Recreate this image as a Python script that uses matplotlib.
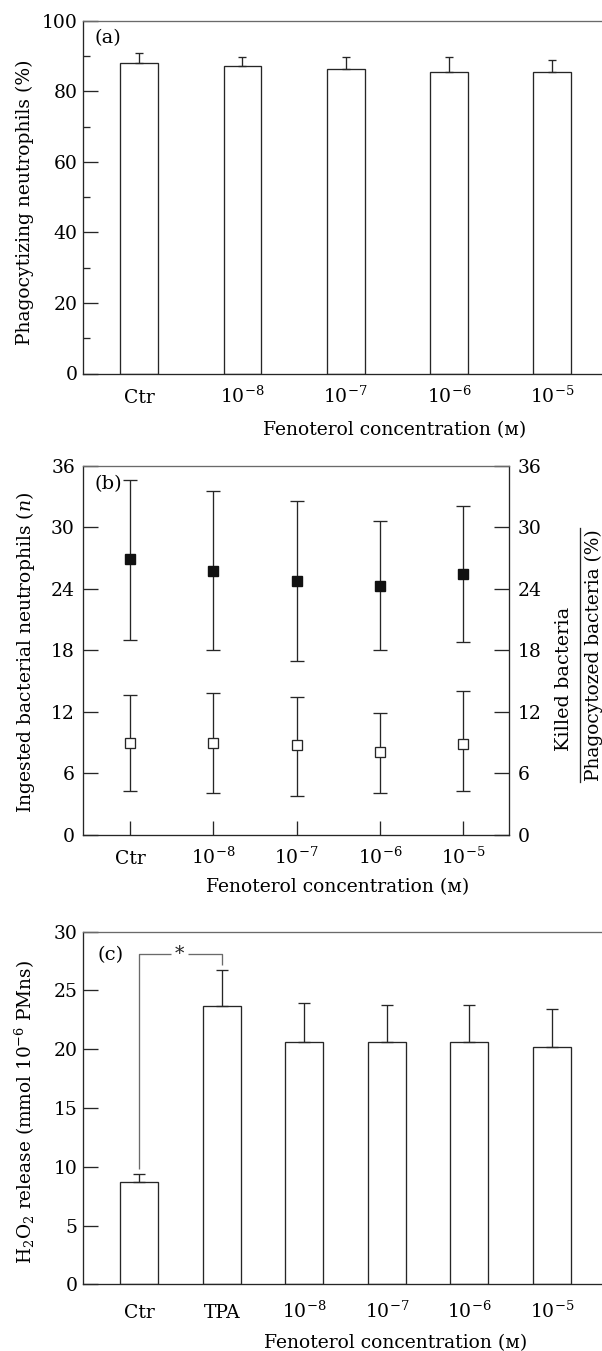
import matplotlib
matplotlib.use("Agg")
import matplotlib.pyplot as plt
from matplotlib.lines import Line2D
import numpy as np

plt.rcParams['font.family'] = ['DejaVu Serif', 'DejaVu Sans']
plt.rcParams['mathtext.fontset'] = 'dejavuserif'

# ---------------- data ----------------
cats_a = ['Ctr', r'10$^{-8}$', r'10$^{-7}$', r'10$^{-6}$', r'10$^{-5}$']
phago_mean = [88.1, 87.2, 86.4, 85.5, 85.5]
phago_top = [90.9, 89.8, 89.8, 89.8, 88.8]

cats_b = ['Ctr', r'10$^{-8}$', r'10$^{-7}$', r'10$^{-6}$', r'10$^{-5}$']
killed_mean = [26.9, 25.7, 24.8, 24.3, 25.4]
killed_top = [34.6, 33.5, 32.6, 30.6, 32.1]
killed_bot = [19.0, 18.0, 17.0, 18.0, 18.8]
ingested_mean = [9.0, 9.0, 8.8, 8.1, 8.9]
ingested_top = [13.6, 13.8, 13.5, 11.9, 14.0]
ingested_bot = [4.3, 4.1, 3.8, 4.1, 4.3]

cats_c = ['Ctr', 'TPA', r'10$^{-8}$', r'10$^{-7}$', r'10$^{-6}$', r'10$^{-5}$']
h2o2_mean = [8.7, 23.7, 20.6, 20.6, 20.6, 20.2]
h2o2_top = [9.4, 26.75, 23.9, 23.8, 23.75, 23.4]
bracket_y = 28.1

W, H = 602, 1351
fig = plt.figure(figsize=(W / 100, H / 100), dpi=100)

LC = '#262626'
GRAY = '#6a6a6a'
FS = 13.5
LFS = 13.5

def ax_rect(left, right, top, bottom):
    return [left / W, 1 - bottom / H, (right - left) / W, (bottom - top) / H]

def style_common(ax):
    for s in ax.spines.values():
        s.set_color(LC)
        s.set_linewidth(0.95)
    ax.spines['top'].set_color(GRAY)
    ax.tick_params(axis='both', which='major', direction='in', length=10.8,
                   width=0.95, color=LC, labelsize=FS)
    ax.tick_params(axis='both', which='minor', direction='in', length=5.2,
                   width=0.95, color=LC)
    ax.tick_params(axis='y', pad=4)

def baseline_labels(ax, pad):
    ax.tick_params(axis='x', pad=pad)
    for lbl in ax.get_xticklabels():
        lbl.set_verticalalignment('baseline')

def xlabel_text(xc, ybase):
    fig.text(xc / W, 1 - ybase / H, 'Fenoterol concentration (\u1d0d)',
             ha='center', va='baseline', fontsize=LFS,
             family=['DejaVu Serif', 'DejaVu Sans'])

# ---------------- panel (a) ----------------
ax1 = fig.add_axes(ax_rect(83.3, 608, 20.7, 373.5))
xa = np.arange(len(cats_a))
err_a = [np.zeros(len(xa)), np.array(phago_top) - np.array(phago_mean)]
ax1.bar(xa, phago_mean, width=0.368, color='white', edgecolor=LC, linewidth=0.95)
ax1.errorbar(xa, phago_mean, yerr=err_a, fmt='none', ecolor=LC, elinewidth=0.95,
             capsize=2.7, capthick=0.95)
ax1.set_xlim(-0.543, len(xa) - 1 + 0.543)
ax1.set_ylim(0, 100)
ax1.set_yticks(np.arange(0, 101, 20))
ax1.set_yticks(np.arange(10, 100, 20), minor=True)
ax1.set_xticks(xa, cats_a)
style_common(ax1)
ax1.tick_params(axis='x', length=0)
baseline_labels(ax1, 21)
ax1.annotate('(a)', xy=(0, 1), xycoords='axes fraction', xytext=(11, -17),
             textcoords='offset pixels', ha='left', va='center', fontsize=14)
fig.text(25 / W, 1 - 202 / H, 'Phagocytizing neutrophils (%)', rotation=90,
         ha='center', va='center', fontsize=LFS)
xlabel_text(395, 435)

# ---------------- panel (b) ----------------
ax2 = fig.add_axes(ax_rect(83.3, 509, 465.7, 835))
xb = np.arange(len(cats_b))
km = np.array(killed_mean)
im = np.array(ingested_mean)
ax2.errorbar(xb, km, yerr=[km - np.array(killed_bot), np.array(killed_top) - km],
             fmt='s', color=LC, mfc='#111111', mec='#111111', ms=6.5,
             ecolor=LC, elinewidth=0.95, capsize=4.7, capthick=0.95)
ax2.errorbar(xb, im, yerr=[im - np.array(ingested_bot), np.array(ingested_top) - im],
             fmt='s', color=LC, mfc='white', mec=LC, mew=0.95, ms=6.5,
             ecolor=LC, elinewidth=0.95, capsize=4.7, capthick=0.95)
ax2.set_xlim(-0.56, len(xb) - 1 + 0.55)
ax2.set_ylim(0, 36)
ax2.set_yticks(np.arange(0, 37, 6))
ax2.set_xticks(xb, cats_b)
style_common(ax2)
ax2.tick_params(axis='y', which='both', right=True, labelright=True, pad=6)
ax2.tick_params(axis='x', length=10)
baseline_labels(ax2, 21)
ax2.annotate('(b)', xy=(0, 1), xycoords='axes fraction', xytext=(11, -18),
             textcoords='offset pixels', ha='left', va='center', fontsize=14)
fig.text(26 / W, 1 - 652 / H, r'Ingested bacterial neutrophils ($\mathit{n}$)',
         rotation=90, ha='center', va='center', fontsize=LFS)
fig.text(564 / W, 1 - 679 / H, 'Killed bacteria', rotation=90,
         ha='center', va='center', fontsize=13.9)
fig.add_artist(Line2D([580 / W, 580 / W], [1 - 528 / H, 1 - 782 / H],
                      color=LC, linewidth=0.95, transform=fig.transFigure))
fig.text(594 / W, 1 - 655 / H, 'Phagocytozed bacteria (%)', rotation=90,
         ha='center', va='center', fontsize=13.4)
xlabel_text(338, 892)

# ---------------- panel (c) ----------------
ax3 = fig.add_axes(ax_rect(83.3, 608, 931.7, 1284.3))
xc = np.arange(len(cats_c))
err_c = [np.zeros(len(xc)), np.array(h2o2_top) - np.array(h2o2_mean)]
ax3.bar(xc, h2o2_mean, width=0.46, color='white', edgecolor=LC, linewidth=0.95)
ax3.errorbar(xc, h2o2_mean, yerr=err_c, fmt='none', ecolor=LC, elinewidth=0.95,
             capsize=4.4, capthick=0.95)
ax3.set_xlim(-0.68, len(xc) - 1 + 0.68)
ax3.set_ylim(0, 30)
ax3.set_yticks(np.arange(0, 31, 5))
ax3.set_xticks(xc, cats_c)
style_common(ax3)
ax3.tick_params(axis='x', length=0)
baseline_labels(ax3, 24)
# significance bracket between Ctr and TPA
x0, x1 = xc[0], xc[1]
ax3.plot([x0, x0, x0 + 0.38], [h2o2_top[0] + 0.4, bracket_y, bracket_y],
         color=GRAY, lw=0.95, solid_capstyle='butt')
ax3.plot([x0 + 0.59, x1, x1], [bracket_y, bracket_y, h2o2_top[1] + 0.45],
         color=GRAY, lw=0.95, solid_capstyle='butt')
ax3.text(x0 + 0.485, bracket_y, '*', ha='center', va='center', fontsize=13.5,
         color=LC)
ax3.annotate('(c)', xy=(0, 1), xycoords='axes fraction', xytext=(14, -23),
             textcoords='offset pixels', ha='left', va='center', fontsize=14)
fig.text(25 / W, 1 - 1112 / H,
         r'H$_2$O$_2$ release (mmol 10$^{-6}$ PMns)',
         rotation=90, ha='center', va='center', fontsize=13.3)
xlabel_text(396, 1348)

fig.savefig('out.png', dpi=100)
